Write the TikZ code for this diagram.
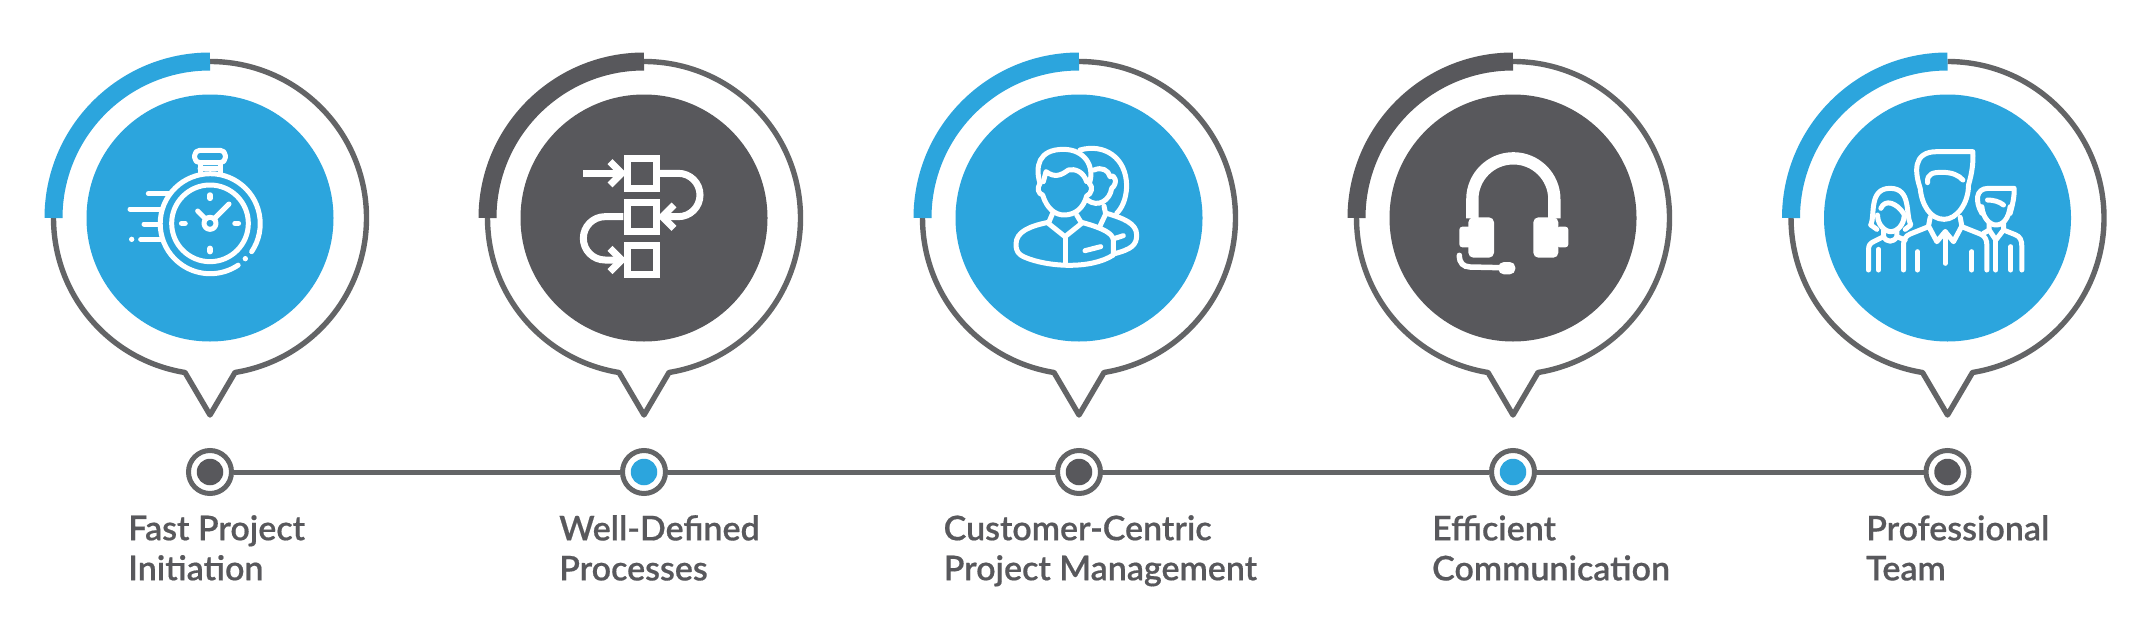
\documentclass[tikz,border=0pt]{standalone}
\usepackage{fontspec}
\setmainfont{Lato Semibold}[FakeBold=0.5]
\definecolor{bluec}{HTML}{2CA5DD}
\definecolor{darkc}{HTML}{58585C}
\definecolor{ringc}{HTML}{636466}
\tikzset{
  x=1pt,y=-1pt,
  disc/.style={circle,fill=#1,draw=none,minimum size=247pt,inner sep=0pt},
  ringnode/.style={circle,draw=ringc,line width=5pt,fill=white,minimum size=43pt,inner sep=0pt},
  dotnode/.style={circle,fill=#1,draw=none,minimum size=26.5pt,inner sep=0pt},
  lab/.style={anchor=north west,align=left,text=darkc,font=\fontsize{34pt}{40pt}\selectfont,inner sep=0pt},
  outline/.style={draw=ringc,line width=5.4pt,line join=round},
  ico/.style={draw=white,line width=5pt,line cap=round,line join=round},
}
\begin{document}
\begin{tikzpicture}
\useasboundingbox (0,0) rectangle (2149,632);
\fill[white] (0,0) rectangle (2149,632);

% callouts
\foreach \cx/\col in {210/bluec,644/darkc,1079/bluec,1513/darkc,1947.5/bluec}{
  \begin{scope}[shift={(\cx,218)}]
    \draw[outline] (0,-156.5) arc[start angle=-90,end angle=80.8,radius=156.5]
      -- (0,197) -- (-25,154.5) arc[start angle=99.2,end angle=180,radius=156.5];
    \draw[draw=\col,line width=18pt] (-156.5,0) arc[start angle=180,end angle=270,radius=156.5];
  \end{scope}
}
\node[disc=bluec] (c1) at (210,218) {};
\node[disc=darkc] (c2) at (644,218) {};
\node[disc=bluec] (c3) at (1079,218) {};
\node[disc=darkc] (c4) at (1513,218) {};
\node[disc=bluec] (c5) at (1947.5,218) {};

% stopwatch
\begin{scope}[shift={(210,218)},scale=1/3,shift={(-570,-564)}]
  \draw[ico] (695,665) arc[start angle=34,end angle=-304,radius=150];
  \draw[ico] (570,580) circle (115);
  \draw[ico] (570,580) circle (18);
  \draw[ico,rounded corners=5pt] (524,361) rectangle (616,398);
  \draw[ico] (540,398) -- (540,430) (600,398) -- (600,430) (540,415)--(600,415);
  \draw[ico] (385,491) -- (445,491) (330,537) -- (420,537) (372,582) -- (415,582) (362,628) -- (425,628);
  \draw[ico] (583,566) -- (627,522) (556,566) -- (533,543);
  \draw[ico,line width=5.5pt] (570,495) -- (570,505) (570,655) -- (570,665) (485,580) -- (495,580) (645,580) -- (655,580);
  \fill[white] (335,628) circle (8) (676,686) circle (8);
\end{scope}

% process
\begin{scope}[shift={(644,218)},scale=1/3,shift={(-312,-264)}]
  \tikzset{pr/.style={draw=white,line width=7pt,line join=miter}}
  \draw[pr] (261,86) rectangle (349,174) (261,216) rectangle (349,304) (261,346) rectangle (349,434);
  \draw[pr] (130,130) -- (240,130);
  \draw[pr] (210,95) -- (245,130) -- (210,165);
  \draw[pr] (360,130) -- (415,130) arc[start angle=-90,end angle=90,radius=65] -- (368,260);
  \draw[pr] (402,225) -- (367,260) -- (402,295);
  \draw[pr] (250,260) -- (195,260) arc[start angle=-90,end angle=-270,radius=65] -- (240,390);
  \draw[pr] (210,355) -- (245,390) -- (210,425);
\end{scope}

% persons
\begin{scope}[shift={(1079,218)},scale=1/3,shift={(-297,-294)}]
  \draw[ico] (300,90) .. controls (370,70) and (440,110) .. (440,200) .. controls (438,240) and (425,265) .. (410,280);
  \draw[ico] (342,150) .. controls (365,140) and (385,150) .. (390,170) .. controls (405,160) and (415,190) .. (395,205) .. controls (390,240) and (355,265) .. (322,240);
  \draw[ico] (372,258) -- (377,282) -- (360,318);
  \draw[ico] (380,280) .. controls (430,295) and (470,310) .. (470,345) .. controls (470,375) and (455,388) .. (400,402);
  \draw[ico] (405,355) -- (430,347);
  \draw[ico] (180,190) .. controls (165,140) and (175,88) .. (250,88) .. controls (315,88) and (345,140) .. (328,190);
  \draw[ico] (190,185) -- (198,155) .. controls (225,175) and (245,165) .. (265,150) .. controls (285,145) and (310,155) .. (320,185);
  \draw[ico] (180,190) .. controls (170,205) and (175,222) .. (188,225) .. controls (200,265) and (225,285) .. (252,285) .. controls (285,285) and (310,265) .. (320,228) .. controls (335,222) and (340,200) .. (328,190);
  \draw[ico] (218,280) -- (205,310) -- (255,350) -- (305,310) -- (290,285);
  \draw[ico] (255,350) -- (255,435);
  \draw[ico] (205,307) .. controls (150,318) and (108,335) .. (108,372) .. controls (108,395) and (115,403) .. (135,412) .. controls (200,440) and (330,450) .. (400,405) -- (400,360) .. controls (398,340) and (370,325) .. (305,307);
  \draw[ico] (315,392) -- (362,380);
\end{scope}

% headset
\begin{scope}[shift={(1513,218)},scale=1/3,shift={(-279,-264)}]
  \draw[draw=white,line width=12.3pt] (157,265) -- (157,208) arc[start angle=180,end angle=360,radius=123] -- (403,265);
  \fill[white,rounded corners=5pt] (145,262) rectangle (222,383) (340,262) rectangle (415,383);
  \fill[white,rounded corners=3pt] (118,290) rectangle (155,352) (410,290) rectangle (445,352);
  \draw[draw=white,line width=5.5pt,line cap=round] (118,376) .. controls (118,400) and (130,410) .. (150,411) -- (240,413);
  \fill[white,rounded corners=5.5pt] (235,396) rectangle (286,433);
\end{scope}

% team
\begin{scope}[shift={(1947.5,218)},scale=1/3,shift={(-322,-264)}]
  % centre man
  \draw[ico] (240,175) .. controls (225,130) and (215,65) .. (290,65) -- (398,65) .. controls (400,100) and (395,130) .. (385,165) .. controls (385,220) and (350,268) .. (312,268) .. controls (270,268) and (245,225) .. (240,175);
  \draw[ico] (262,158) .. controls (260,130) and (280,127) .. (305,127) .. controls (335,127) and (355,135) .. (368,150);
  \draw[ico] (270,262) -- (265,288) -- (290,335) -- (315,305) -- (340,335) -- (365,288) -- (360,262);
  \draw[ico] (315,305) -- (315,400);
  \draw[ico] (265,290) -- (210,312) .. controls (195,318) and (190,330) .. (190,345) -- (190,420);
  \draw[ico] (365,290) -- (420,312) .. controls (435,318) and (440,330) .. (440,345) -- (440,420);
  \draw[ico] (232,365) -- (232,420) (395,365) -- (395,420);
  % woman
  \draw[ico] (92,285) .. controls (105,255) and (85,175) .. (150,175) .. controls (215,175) and (195,255) .. (212,285) -- (195,298);
  \draw[ico] (92,285) -- (110,298);
  \draw[ico] (122,235) .. controls (135,205) and (170,220) .. (190,250);
  \draw[ico] (112,255) .. controls (112,285) and (135,305) .. (152,305) .. controls (170,305) and (192,285) .. (192,255);
  \draw[ico] (130,302) -- (130,320) .. controls (140,338) and (160,338) .. (170,320) -- (170,302);
  \draw[ico] (130,320) -- (100,335) .. controls (90,340) and (85,345) .. (85,360) -- (85,420);
  \draw[ico] (170,320) -- (195,330);
  \draw[ico] (115,358) -- (115,420);
  % right man
  \draw[ico] (425,250) .. controls (405,215) and (405,175) .. (445,175) -- (522,175) .. controls (523,205) and (515,230) .. (510,250);
  \draw[ico] (425,230) .. controls (428,265) and (450,285) .. (467,285) .. controls (490,285) and (505,265) .. (510,230);
  \draw[ico] (442,210) .. controls (460,210) and (478,215) .. (490,225);
  \draw[ico] (447,280) -- (447,300) -- (467,330) -- (490,300) -- (490,280);
  \draw[ico] (467,330) -- (467,420);
  \draw[ico] (447,300) -- (430,310);
  \draw[ico] (490,300) -- (525,314) .. controls (540,320) and (545,330) .. (545,350) -- (545,420);
  \draw[ico] (512,350) -- (512,420);
\end{scope}

% timeline
\node[ringnode] (d1) at (210,472) {};
\node[ringnode] (d2) at (644,472) {};
\node[ringnode] (d3) at (1079,472) {};
\node[ringnode] (d4) at (1513,472) {};
\node[ringnode] (d5) at (1947.5,472) {};
\draw[draw=ringc,line width=5pt] (d1) -- (d2);
\draw[draw=ringc,line width=5pt] (d2) -- (d3);
\draw[draw=ringc,line width=5pt] (d3) -- (d4);
\draw[draw=ringc,line width=5pt] (d4) -- (d5);
\node[dotnode=darkc] (i1) at (d1) {};
\node[dotnode=bluec] (i2) at (d2) {};
\node[dotnode=darkc] (i3) at (d3) {};
\node[dotnode=bluec] (i4) at (d4) {};
\node[dotnode=darkc] (i5) at (d5) {};

% labels
\node[lab] (t1) at (128,515) {Fast Project\\Initiation};
\node[lab] (t2) at (559,515) {Well-Defined\\Processes};
\node[lab] (t3) at (943.5,515) {Customer-Centric\\Project Management};
\node[lab] (t4) at (1432,515) {Efficient\\Communication};
\node[lab] (t5) at (1866,515) {Professional\\Team};
\end{tikzpicture}
\end{document}
